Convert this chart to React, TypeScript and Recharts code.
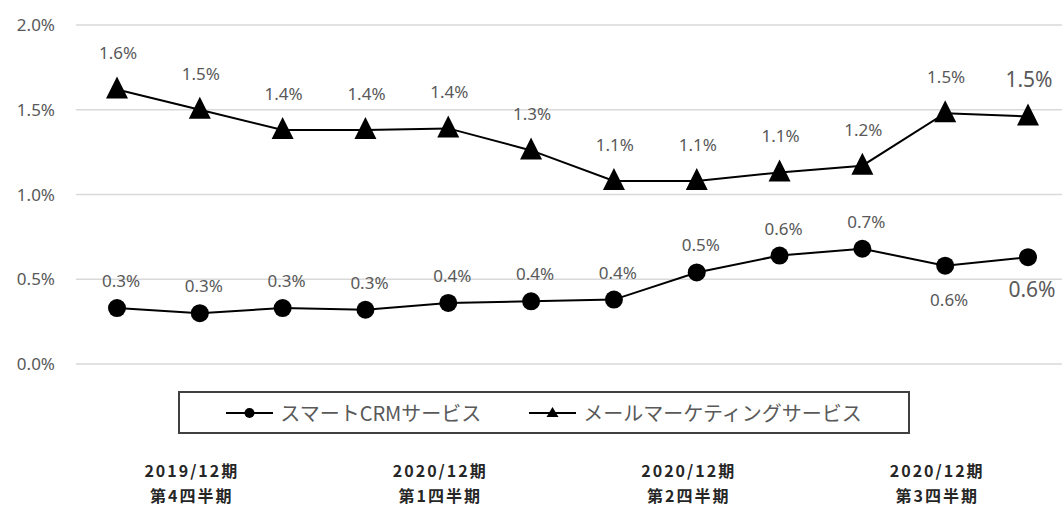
import { LineChart, Line, XAxis, YAxis, CartesianGrid, Legend, LabelList } from "recharts";

// monthly rates, Oct 2019 - Sep 2020
const months = [
  "2019/10", "2019/11", "2019/12",
  "2020/01", "2020/02", "2020/03",
  "2020/04", "2020/05", "2020/06",
  "2020/07", "2020/08", "2020/09",
];
const crmRates = [0.33, 0.3, 0.33, 0.32, 0.36, 0.37, 0.38, 0.54, 0.64, 0.68, 0.58, 0.63];
const mailRates = [1.62, 1.5, 1.38, 1.38, 1.39, 1.26, 1.08, 1.08, 1.13, 1.17, 1.48, 1.46];
const quarterLabels = [
  ["2019/12期", "第4四半期"],
  ["2020/12期", "第1四半期"],
  ["2020/12期", "第2四半期"],
  ["2020/12期", "第3四半期"],
];
const yTicks = [0, 0.5, 1, 1.5, 2];

const crmName = "スマートCRMサービス";
const mailName = "メールマーケティングサービス";

const data = months.map((m, i) => ({ month: m, crm: crmRates[i], mail: mailRates[i] }));

const numFont = "'Noto Sans', sans-serif";
const jpFont = "'Noto Sans CJK JP', sans-serif";
const gray = "#595959";

const pct = (v: number) => `${v.toFixed(1)}%`;

function QuarterTick(props: any) {
  const { x, y, index } = props;
  if (index % 3 !== 1) return <g />;
  const lines = quarterLabels[(index - 1) / 3];
  return (
    <g>
      {lines.map((t, i) => (
        <text
          key={i}
          x={x - 8}
          y={y + 105 + i * 25}
          textAnchor="middle"
          fontFamily={jpFont}
          fontSize={16}
          fontWeight="bold"
          letterSpacing={2}
          fill="#262626"
        >
          {t}
        </text>
      ))}
    </g>
  );
}

function TriangleDot(props: any) {
  const { cx, cy } = props;
  if (cx == null || cy == null) return <g />;
  return <polygon points={`${cx},${cy - 13} ${cx - 11},${cy + 9} ${cx + 11},${cy + 9}`} fill="#000" />;
}

function CrmLabel(props: any) {
  const { x, y, value, index } = props;
  const below = index >= 10;
  return (
    <text
      x={x + 4}
      y={below ? y + 40 : y - 21}
      textAnchor="middle"
      fontFamily={numFont}
      fontSize={index === 11 ? 21 : 17}
      fill={gray}
    >
      {pct(value)}
    </text>
  );
}

function MailLabel(props: any) {
  const { x, y, value, index } = props;
  return (
    <text
      x={x + 1}
      y={y - 30}
      textAnchor="middle"
      fontFamily={numFont}
      fontSize={index === 11 ? 21 : 17}
      fill={gray}
    >
      {pct(value)}
    </text>
  );
}

function LegendBox() {
  const item = (name: string, marker: "circle" | "triangle") => (
    <div style={{ display: "flex", alignItems: "center" }}>
      <svg width={47} height={20}>
        <line x1={0} y1={10} x2={47} y2={10} stroke="#000" strokeWidth={2} />
        {marker === "circle" ? (
          <circle cx={23.5} cy={10} r={5} fill="#000" />
        ) : (
          <polygon points="23.5,4 17.5,14 29.5,14" fill="#000" />
        )}
      </svg>
      <span style={{ marginLeft: 7, fontFamily: jpFont, fontSize: 20, color: gray, whiteSpace: "nowrap" }}>
        {name}
      </span>
    </div>
  );
  return (
    <div
      style={{
        boxSizing: "border-box",
        width: 732,
        height: 43,
        border: "2px solid #404040",
        display: "flex",
        alignItems: "center",
        justifyContent: "center",
        gap: 48,
        background: "#fff",
      }}
    >
      {item(crmName, "circle")}
      {item(mailName, "triangle")}
    </div>
  );
}

export default function App() {
  return (
    <div style={{ position: "absolute", left: 0, top: 0, width: 1062, height: 513, overflow: "hidden", background: "#fff" }}>
      <LineChart width={1070} height={513} data={data} margin={{ top: 25, right: 1, bottom: 0, left: 0 }}>
        <CartesianGrid vertical={false} stroke="#d9d9d9" strokeWidth={1.5} />
        <XAxis
          dataKey="month"
          axisLine={false}
          tickLine={false}
          height={149}
          interval={0}
          padding={{ left: 41, right: 41 }}
          tick={<QuarterTick />}
        />
        <YAxis
          width={76}
          domain={[0, 2]}
          ticks={yTicks}
          axisLine={false}
          tickLine={false}
          tickSize={0}
          tickMargin={21}
          tickFormatter={pct}
          tick={{ fontFamily: numFont, fontSize: 17, fill: gray }}
        />
        <Legend
          verticalAlign="middle"
          align="center"
          layout="horizontal"
          content={() => <LegendBox />}
          wrapperStyle={{ top: 391, left: 178, width: 732 }}
        />
        <Line
          dataKey="crm"
          name={crmName}
          stroke="#000"
          strokeWidth={2}
          dot={{ r: 9, fill: "#000", stroke: "none" }}
          activeDot={false}
          isAnimationActive={false}
        >
          <LabelList dataKey="crm" content={<CrmLabel />} />
        </Line>
        <Line
          dataKey="mail"
          name={mailName}
          stroke="#000"
          strokeWidth={2}
          dot={<TriangleDot />}
          activeDot={false}
          isAnimationActive={false}
        >
          <LabelList dataKey="mail" content={<MailLabel />} />
        </Line>
      </LineChart>
    </div>
  );
}
